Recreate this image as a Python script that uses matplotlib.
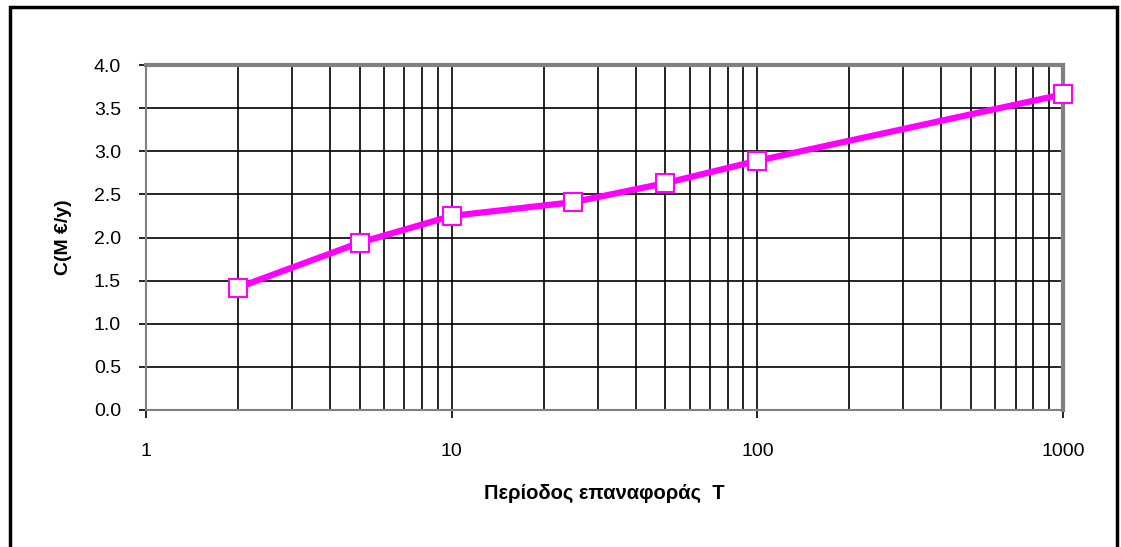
import matplotlib
matplotlib.use("Agg")
import matplotlib.pyplot as plt
from matplotlib.ticker import LogLocator, FixedLocator, FuncFormatter, NullFormatter
from matplotlib.patches import Rectangle

plt.rcParams['font.family'] = ['Liberation Sans', 'DejaVu Sans']

T = [2, 5, 10, 25, 50, 100, 1000]
C = [1.42, 1.94, 2.25, 2.41, 2.63, 2.89, 3.66]
y_ticks = [0.0, 0.5, 1.0, 1.5, 2.0, 2.5, 3.0, 3.5, 4.0]
x_ticks = [1, 10, 100, 1000]
x_label = "Περίοδος επαναφοράς  T"
y_label = "C(M €/y)"

fig = plt.figure(figsize=(11.21, 5.47), dpi=100)
ax = fig.add_axes([146/1121, 1-410/547, (1063-146)/1121, (410-65)/547])

ax.set_xscale('log')
ax.set_xlim(1, 1000)
ax.set_ylim(0, 4.0)
ax.xaxis.set_major_locator(FixedLocator(x_ticks))
ax.xaxis.set_major_formatter(FuncFormatter(lambda v, p: f"{int(v)}"))
ax.xaxis.set_minor_locator(LogLocator(base=10, subs=range(2, 10)))
ax.xaxis.set_minor_formatter(NullFormatter())
ax.set_yticks(y_ticks)
ax.set_yticklabels([f"{v:.1f}" for v in y_ticks])

ax.grid(True, which='both', axis='x', color='black', linewidth=1.2)
ax.grid(True, which='major', axis='y', color='black', linewidth=1.2)
ax.set_axisbelow(True)

for s in ['top', 'right']:
    ax.spines[s].set_color('#808080')
    ax.spines[s].set_linewidth(3)
for s in ['left', 'bottom']:
    ax.spines[s].set_color('#808080')
    ax.spines[s].set_linewidth(1.5)

ax.tick_params(axis='y', which='major', direction='out', length=5, width=1.2,
               color='black', labelsize=14, labelcolor='black', pad=13)
ax.tick_params(axis='x', which='major', direction='out', length=6, width=1.2,
               color='black', labelsize=14, labelcolor='black', pad=18)
ax.tick_params(axis='x', which='minor', length=0)

ax.plot(T, C, color='#ff00ff', linewidth=4.5, marker='s', markersize=13,
        markerfacecolor='white', markeredgecolor='#ff00ff', markeredgewidth=1.5,
        clip_on=False, zorder=5)

ax.set_xlabel(x_label, fontsize=14.5, labelpad=17, fontweight='bold')
ax.set_ylabel(y_label, fontsize=14, labelpad=16, fontweight='bold')

fig.patches.append(Rectangle((10/1121, -0.05), (1117-10)/1121, 1-7/547+0.05,
                             transform=fig.transFigure, fill=False,
                             edgecolor='black', linewidth=2.5))

fig.savefig("out.png", dpi=100)
